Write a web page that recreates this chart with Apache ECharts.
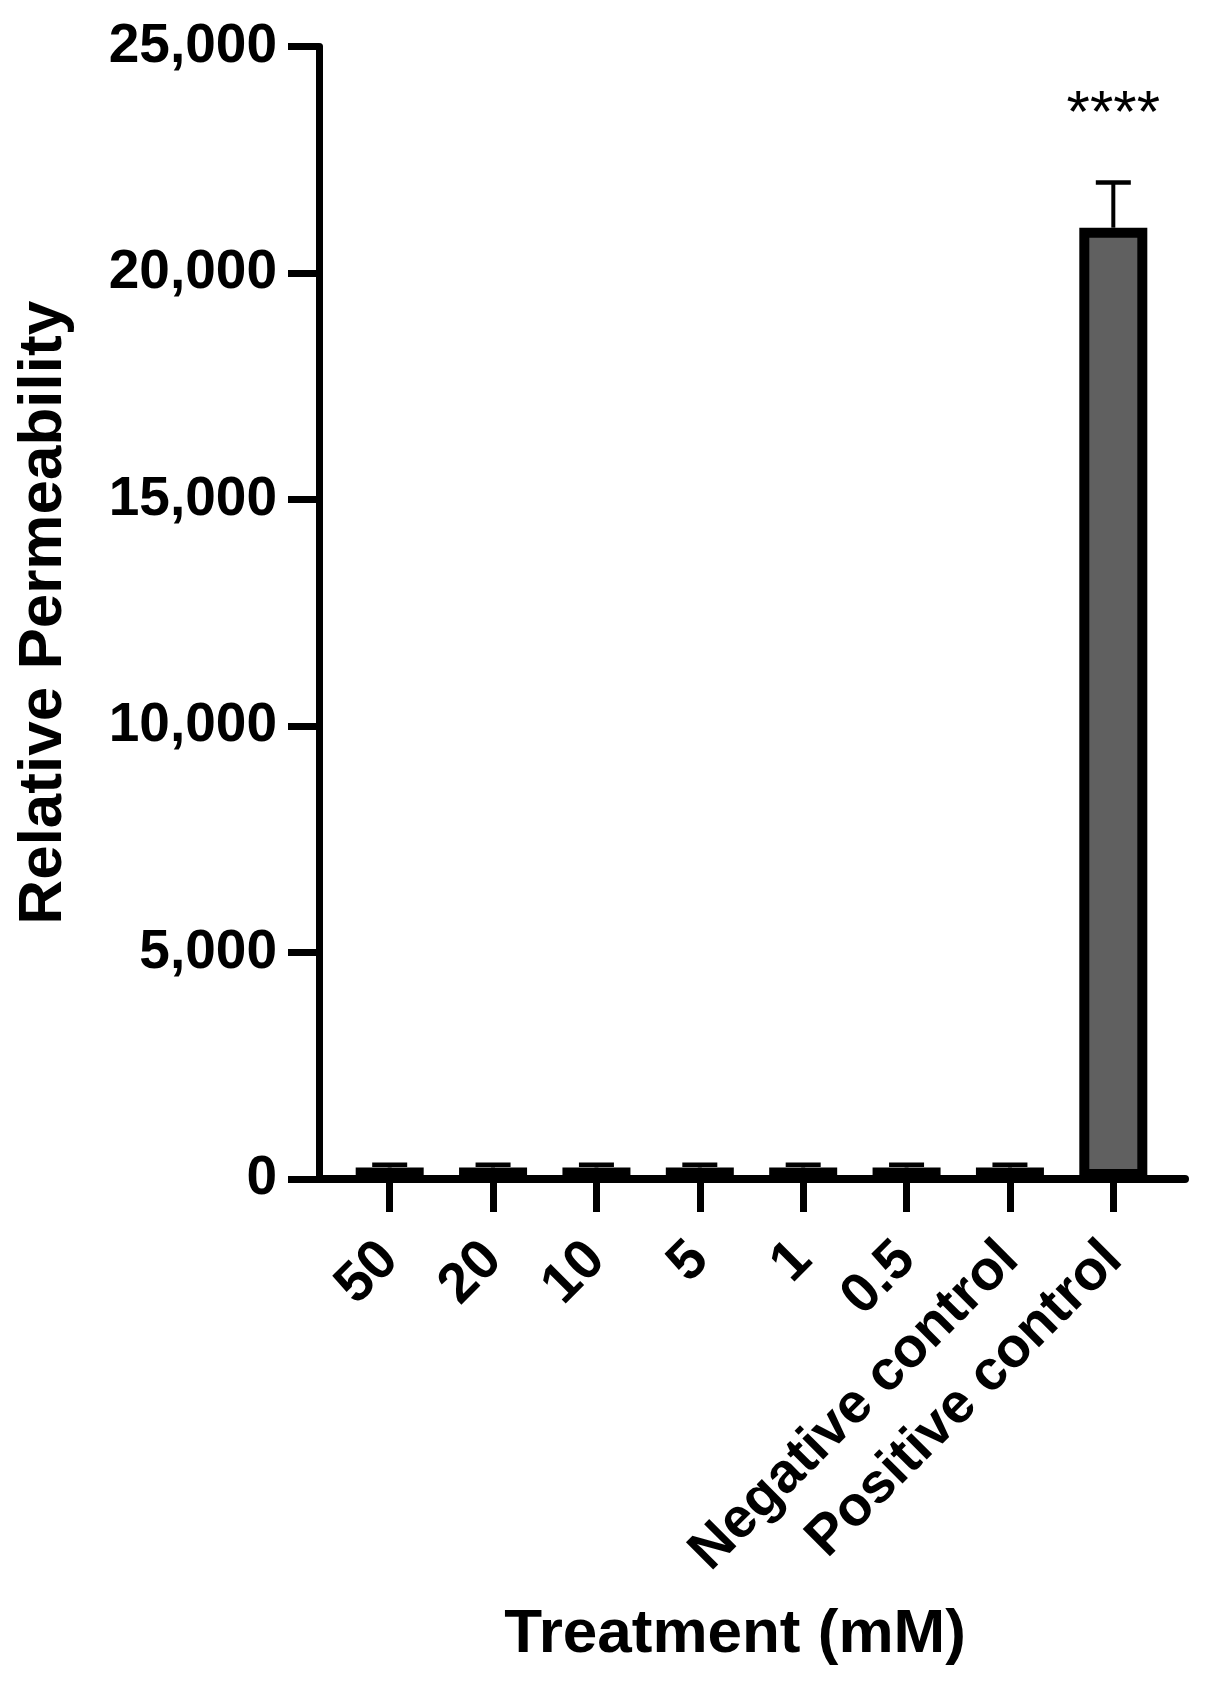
<!DOCTYPE html>
<html>
<head>
<meta charset="utf-8">
<script src="https://cdn.jsdelivr.net/npm/echarts@6/dist/echarts.min.js"></script>
<style>
html,body{margin:0;padding:0;background:#fff;}
#chart{width:1208px;height:1688px;}
</style>
</head>
<body>
<div id="chart"></div>
<script>
var categories = ['50', '20', '10', '5', '1', '0.5', 'Negative control', 'Positive control'];
var means = [255, 255, 255, 255, 255, 255, 255, 21000];
var upperErr = [315, 315, 315, 315, 315, 315, 315, 22000];
var significance = ['', '', '', '', '', '', '', '****'];
var yTicks = [0, 5000, 10000, 15000, 20000, 25000];

var FONT = '"Liberation Sans", Arial, Helvetica, sans-serif';
var chart = echarts.init(document.getElementById('chart'), null, {renderer: 'canvas'});

var option = {
  backgroundColor: '#ffffff',
  animation: false,
  grid: [
    {left: 338, right: 43, top: 46.5, bottom: 509, containLabel: false},
    {left: 319, right: 23, top: 46.5, bottom: 509, containLabel: false}
  ],
  xAxis: [
    {
      type: 'category',
      gridIndex: 0,
      data: categories,
      axisLine: {show: false},
      axisTick: {show: true, alignWithLabel: true, length: 33, inside: false,
                 lineStyle: {color: '#000', width: 7}},
      axisLabel: {rotate: 45, margin: 72, interval: 0, color: '#000',
                  fontFamily: FONT, fontWeight: 'bold', fontSize: 56},
      name: 'Treatment (mM)',
      nameLocation: 'middle',
      nameGap: 425,
      nameTextStyle: {color: '#000', fontFamily: FONT, fontWeight: 'bold', fontSize: 62,
                      padding: [0, 33, 0, 0]}
    },
    {
      type: 'value',
      gridIndex: 1,
      min: 0, max: 1,
      axisLine: {show: true, lineStyle: {color: '#000', width: 8}},
      axisTick: {show: false},
      axisLabel: {show: false},
      splitLine: {show: false}
    }
  ],
  yAxis: [
    {
      type: 'value',
      gridIndex: 0,
      min: yTicks[0],
      max: yTicks[yTicks.length - 1],
      interval: yTicks[1] - yTicks[0],
      offset: 19,
      axisLine: {show: true, lineStyle: {color: '#000', width: 7}},
      axisTick: {show: true, length: 31, inside: false, lineStyle: {color: '#000', width: 7}},
      axisLabel: {margin: 42, color: '#000', fontFamily: FONT, fontWeight: 'bold', fontSize: 55,
                  formatter: function (v) { return v.toLocaleString('en-US'); }},
      splitLine: {show: false},
      name: 'Relative Permeability',
      nameLocation: 'middle',
      nameGap: 244,
      nameTextStyle: {color: '#000', fontFamily: FONT, fontWeight: 'bold', fontSize: 62}
    },
    {
      type: 'value',
      gridIndex: 1,
      min: 0, max: 1,
      show: false
    }
  ],
  series: [
    {
      type: 'bar',
      xAxisIndex: 0,
      yAxisIndex: 0,
      data: means,
      barWidth: 68,
      itemStyle: {color: '#606060', borderColor: '#000', borderWidth: 10},
      z: 3
    },
    {
      type: 'custom',
      xAxisIndex: 0,
      yAxisIndex: 0,
      z: 4,
      data: categories.map(function (c, i) { return [i, means[i], upperErr[i]]; }),
      renderItem: function (params, api) {
        var i = api.value(0);
        var top = api.coord([i, api.value(2)]);
        var base = api.coord([i, api.value(1)]);
        var half = 17.5;
        var children = [
          {type: 'line', shape: {x1: top[0], y1: base[1], x2: top[0], y2: top[1]},
           style: {stroke: '#000', lineWidth: 4}},
          {type: 'line', shape: {x1: top[0] - half, y1: top[1], x2: top[0] + half, y2: top[1]},
           style: {stroke: '#000', lineWidth: 4.5}}
        ];
        var sig = significance[params.dataIndex];
        if (sig) {
          children.push({
            type: 'text',
            style: {text: sig, x: top[0], y: top[1] - 67, align: 'center', verticalAlign: 'middle',
                    fill: '#000', font: 'normal 60px ' + FONT}
          });
        }
        return {type: 'group', children: children};
      }
    }
  ]
};
chart.setOption(option);
</script>
</body>
</html>
